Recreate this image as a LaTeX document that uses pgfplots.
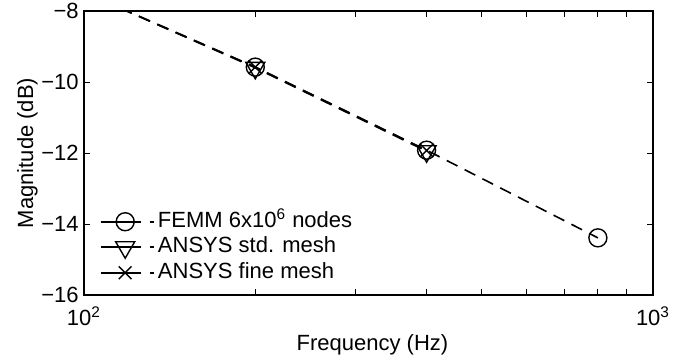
\documentclass[border=0pt]{standalone}
\usepackage{fontspec}
\setmainfont{Liberation Sans}
\usepackage{pgfplots}
\pgfplotsset{compat=1.18}
\begin{document}
\begin{tikzpicture}[font=\fontsize{11}{13}\selectfont]
\useasboundingbox (-42pt,-32pt) rectangle (302pt,147.5pt);
\begin{axis}[
  at={(0,0)}, anchor=south west,
  scale only axis, width=284.5pt, height=142pt,
  xmode=log, xmin=100, xmax=1000, ymin=-16, ymax=-8,
  clip=true,
  xtick={100,1000}, xticklabels={10\textsuperscript{2},10\textsuperscript{3}},
  minor xtick={200,300,400,500,600,700,800,900},
  ytick={-16,-14,-12,-10,-8}, yticklabels={−16,−14,−12,−10,−8},
  tick align=inside, major tick length=3pt, minor tick length=3pt,
  axis line style={line width=0.8pt},
  every tick/.style={black, line width=0.5pt},
  xticklabel style={anchor=base, yshift=-15pt},
  yticklabel style={anchor=east, inner xsep=2.5pt},
  xlabel={Frequency (Hz)}, ylabel={Magnitude (dB)},
  xlabel style={at={(axis description cs:0.507,-0.1937)}, anchor=base},
  ylabel style={at={(axis description cs:-0.0896,0.5)}, anchor=base},
  legend style={draw=none, fill=none, inner sep=0pt, column sep=0pt, row sep=0.25pt,
    at={(axis description cs:0.0272,0.033)}, anchor=south west,
    nodes={inner xsep=1.75pt, inner ysep=1pt, text height=8pt, text depth=2.5pt}},
  legend cell align=left,
  legend image code/.code={
    \draw[solid, mark repeat=2, mark phase=2] plot coordinates {(0pt,0pt)(12.25pt,0pt)(20pt,0pt)};
    \draw[solid] (24.5pt,0pt) -- (26.5pt,0pt);
  },
]
\addplot[black, line width=0.8pt, dash pattern=on 6pt off 4pt, mark=o, mark size=4.5pt,
  mark options={solid, line width=0.7pt}]
  coordinates {(100,-7.47)(200,-9.58)(400,-11.92)(800,-14.39)};
\addlegendentry{FEMM 6x10\textsuperscript{6} nodes}
\addplot[black, line width=0.8pt, dash pattern=on 6pt off 4pt, mark=triangle, mark size=5.5pt,
  mark options={solid, rotate=180, line width=0.7pt}]
  coordinates {(100,-7.47)(200,-9.6)(400,-11.95)};
\addlegendentry{ANSYS std. mesh}
\addplot[black, line width=0.8pt, dash pattern=on 6pt off 4pt, mark=x, mark size=4.5pt,
  mark options={solid, line width=0.7pt}]
  coordinates {(100,-7.47)(200,-9.58)(400,-11.93)};
\addlegendentry{ANSYS fine mesh}
\end{axis}
\end{tikzpicture}
\end{document}
